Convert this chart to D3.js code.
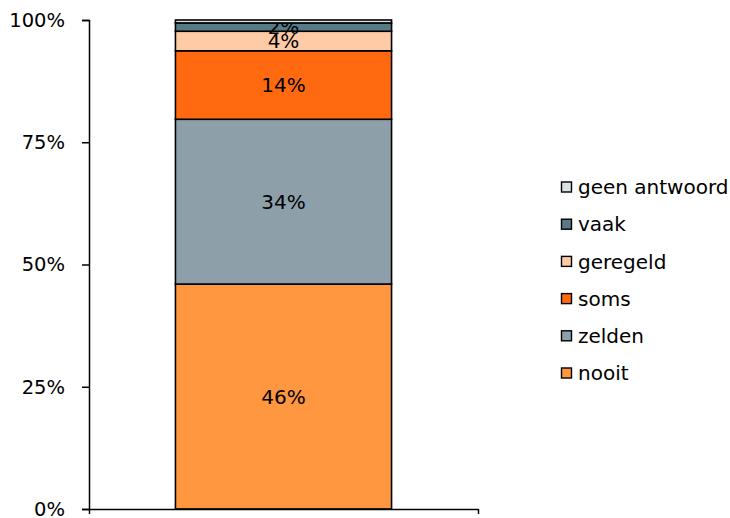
<!DOCTYPE html>
<html><head><meta charset="utf-8">
<script src="https://cdn.jsdelivr.net/npm/d3@7"></script>
<style>body{margin:0;background:#fff}svg{display:block}text{font-family:"DejaVu Sans",Verdana,sans-serif}</style>
</head><body><svg id="c" width="730" height="518"></svg>
<script>
const categories = ["totaal"];
const seriesNames = ["nooit","zelden","soms","geregeld","vaak","geen antwoord"];
const seriesValues = [46.0, 33.7, 14.0, 4.0, 1.7, 0.6];
const seriesLabels = ["46%","34%","14%","4%","2%",""];
const seriesColors = ["#FF9640","#8DA0AA","#FF6A10","#FFCBA6","#567A86","#DCE3E5"];
const tickValues = [0,25,50,75,100];

const svg = d3.select("#c");
const m = {left:89, right:478, top:20, bottom:509};
const y = d3.scaleLinear().domain([0,100]).range([m.bottom, m.top]);
const x = d3.scaleBand().domain(categories).range([m.left, m.right]).paddingInner(0).paddingOuter(0.4);

let cum = 0;
const stacks = seriesValues.map((v,i)=>{const s={name:seriesNames[i],y0:cum,y1:cum+v,label:seriesLabels[i],color:seriesColors[i]};cum+=v;return s;});

const g = svg.append("g");
stacks.forEach(s=>{
  g.append("rect")
    .attr("x", x("totaal"))
    .attr("width", x.bandwidth())
    .attr("y", y(s.y1))
    .attr("height", y(s.y0)-y(s.y1))
    .attr("fill", s.color)
    .attr("stroke","#000").attr("stroke-width",1.6);
  if (s.label) {
    g.append("text")
      .attr("x", x("totaal")+x.bandwidth()/2)
      .attr("y", (y(s.y0)+y(s.y1))/2)
      .attr("dy","0.36em")
      .attr("text-anchor","middle")
      .attr("font-size","20px").attr("fill","#000")
      .text(s.label);
  }
});

// y axis
const ya = svg.append("g").attr("transform",`translate(${m.left},0)`)
  .call(d3.axisLeft(y).tickValues(tickValues).tickFormat(d=>d+"%").tickSizeOuter(0).tickSize(7).tickPadding(17));
ya.selectAll("text").attr("font-size","19.5px").attr("fill","#000").attr("font-family","'DejaVu Sans',Verdana,sans-serif");
ya.selectAll("line,path").attr("stroke","#000").attr("stroke-width",1.5);

// x axis
const xa = svg.append("g").attr("transform",`translate(0,${m.bottom})`)
  .call(d3.axisBottom(d3.scaleLinear().domain([0,1]).range([m.left,m.right])).tickValues([0,1]).tickFormat("").tickSize(5).tickSizeOuter(0));
xa.selectAll("line,path").attr("stroke","#000").attr("stroke-width",1.5);

// legend
const leg = svg.append("g");
const legendOrder = seriesNames.map((n,i)=>i).reverse();
legendOrder.forEach((i,k)=>{
  const cy = 187 + k*37.2;
  leg.append("rect").attr("x",561.5).attr("y",cy-5).attr("width",10).attr("height",10)
    .attr("fill",seriesColors[i]).attr("stroke","#000").attr("stroke-width",1.4);
  leg.append("text").attr("x",578).attr("y",cy).attr("dy","0.36em")
    .attr("font-size","20px").attr("fill","#000").text(seriesNames[i]);
});
</script></body></html>
